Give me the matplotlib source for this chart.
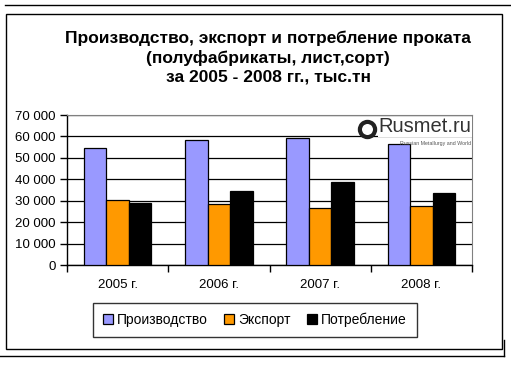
import matplotlib.pyplot as plt
import numpy as np
from matplotlib.patches import Rectangle
from matplotlib.lines import Line2D

plt.rcParams['font.family'] = ['Liberation Sans', 'DejaVu Sans']

years = ['2005 г.', '2006 г.', '2007 г.', '2008 г.']
production = [54600, 58300, 59400, 56600]
export = [30300, 28500, 26600, 27500]
consumption = [29100, 34400, 38600, 33700]
series_names = ['Производство', 'Экспорт', 'Потребление']
colors = ['#9999ff', '#ff9900', '#000000']

fig = plt.figure(figsize=(5.11, 3.65), dpi=100)
W, H = 511, 365

# frame lines around the chart (screenshot borders)
def px(x, y):
    return x / W, 1 - y / H

fig.patches.append(Rectangle(px(6, 349), (502 - 6) / W, (349 - 14) / H,
                             transform=fig.transFigure, fill=False,
                             edgecolor='black', linewidth=1.0))
for (x0, y0, x1, y1) in [(5, 5, 511, 5), (0, 356, 504, 356), (504, 356, 504, 340)]:
    a, b = px(x0, y0)
    c, d = px(x1, y1)
    fig.lines.append(Line2D([a, c], [b, d], transform=fig.transFigure,
                            color='black', linewidth=1.0))

fig.text(268 / W, 1 - 58 / H,
         'Производство, экспорт и потребление проката\n(полуфабрикаты, лист,сорт)\nза 2005 - 2008 гг., тыс.тн',
         ha='center', va='center', fontsize=12.5, fontweight='bold', linespacing=1.3)

ax = fig.add_axes([67 / W, 1 - 265 / H, (472 - 67) / W, (265 - 115) / H])
x = np.arange(len(years))
bw = 0.222
for i, (vals, c, name) in enumerate(zip([production, export, consumption], colors, series_names)):
    ax.bar(x + (i - 1) * bw, vals, bw, color=c, edgecolor='black', linewidth=0.9,
           label=name, zorder=3)

ax.set_xlim(-0.5, len(years) - 0.5)
ax.set_ylim(0, 70000)
ax.set_yticks(np.arange(0, 70001, 10000))
ax.set_yticklabels([f'{v:,}'.replace(',', ' ') for v in range(0, 70001, 10000)])
ax.set_xticks(x)
ax.set_xticklabels(years)
ax.set_xticks(np.arange(-0.5, len(years), 1), minor=True)
ax.tick_params(axis='x', which='major', length=0, pad=10, labelsize=9.5)
ax.tick_params(axis='x', which='minor', length=5, direction='out', width=1)
ax.tick_params(axis='y', length=5, width=1, labelsize=9.5, pad=3)
ax.grid(axis='y', color='black', linewidth=0.9, zorder=0)
ax.spines['top'].set_color('#808080')
ax.spines['right'].set_color('#808080')
ax.spines['left'].set_linewidth(1)
ax.spines['bottom'].set_linewidth(1)

# watermark logo
ax.text(0.998, 0.985, 'Rusmet.ru', transform=ax.transAxes, ha='right', va='top',
        fontsize=14.5, color='#333333', zorder=5,
        bbox=dict(facecolor='white', edgecolor='none', pad=0.5))
ax.text(0.998, 0.83, 'Russian Metallurgy and World', transform=ax.transAxes,
        ha='right', va='top', fontsize=3.8, color='#555555', zorder=5)
ax.scatter([0.74], [0.905], s=120, transform=ax.transAxes, facecolor='white',
           edgecolor='#222222', linewidth=3, zorder=6)

leg = fig.legend(loc='center', bbox_to_anchor=(255 / W, 1 - 320 / H), ncol=3,
                 frameon=True, fancybox=False, edgecolor='black', fontsize=10,
                 handlelength=0.7, handleheight=0.7, handletextpad=0.3,
                 columnspacing=1.2, borderpad=0.7)
leg.get_frame().set_linewidth(1)

fig.savefig('out.png', dpi=100)
